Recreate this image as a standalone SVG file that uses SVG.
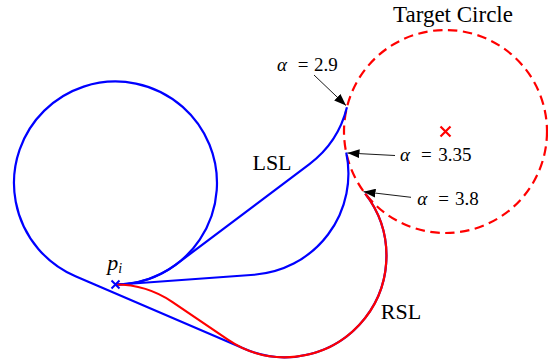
<svg xmlns="http://www.w3.org/2000/svg" width="548" height="364" viewBox="0 0 548 364">
<style>
.blue{fill:none;stroke:#0000ff;stroke-width:2.2;stroke-linejoin:round}
.red{fill:none;stroke:#ff0000;stroke-width:2.2;stroke-linejoin:round}
.dash{fill:none;stroke:#ff0000;stroke-width:2.2;stroke-dasharray:9.5 5.5}
.arr{fill:none;stroke:#000;stroke-width:0.9}
</style>
<defs>
<marker id="ah" markerUnits="userSpaceOnUse" markerWidth="13" markerHeight="9" refX="12" refY="4.5" orient="auto">
<path d="M0,0 L12,4.5 L0,9 z" fill="#000"/>
</marker>
</defs>
<g id="target-circle">
<circle class="dash" cx="445.5" cy="131.5" r="101.5"/>
<path d="M440.5 126.5 L450.5 136.5 M450.5 126.5 L440.5 136.5" stroke="#ff0000" stroke-width="2.2" fill="none"/>
<text style="font-family:'Liberation Serif'" font-family="Liberation Serif" fill="#000" font-size="23" x="453" y="21.5" text-anchor="middle">Target Circle</text>
</g>
<g id="connectors">
<path id="lsl-2.9" class="blue" d="M115.5 284.5 A101.5 101.5 0 0 0 176.56 264.09 L309.46 164.02 A101.5 101.5 0 0 0 346.95 107.22"/>
<path id="lsl-3.35" class="blue" d="M115.5 284.5 A101.5 101.5 0 0 0 122.82 284.24 L254.28 274.73 A101.5 101.5 0 0 0 346.23 152.49"/>
<path id="lsl-3.8" class="blue" d="M115.5 284.5 A101.5 101.5 0 1 0 75.47 276.28 L244.9 348.99 A101.5 101.5 0 0 0 365.22 193.6"/>
<path id="rsl-3.8" class="red" d="M115.5 284.5 A101.5 101.5 0 0 1 172.55 302.05 L227.88 339.66 A101.5 101.5 0 0 0 365.22 193.6"/>
<line class="arr" marker-end="url(#ah)" x1="314" y1="75" x2="346" y2="105.5"/>
<line class="arr" marker-end="url(#ah)" x1="395" y1="155.5" x2="347.5" y2="153"/>
<line class="arr" marker-end="url(#ah)" x1="411" y1="197.3" x2="363.5" y2="191.7"/>
</g>
<g id="start-point">
<path d="M111.5 280.5 L119.5 288.5 M119.5 280.5 L111.5 288.5" stroke="#0000ff" stroke-width="2" fill="none"/>
<text style="font-family:'Liberation Serif'" font-family="Liberation Serif" fill="#000" x="107.3" y="269.5" font-size="22" font-style="italic">p</text>
<text style="font-family:'Liberation Serif'" font-family="Liberation Serif" fill="#000" x="118.3" y="273" font-size="14" font-style="italic">i</text>
</g>
<g id="labels">
<text style="font-family:'Liberation Serif'" font-family="Liberation Serif" fill="#000" font-size="22" x="272" y="170" text-anchor="middle">LSL</text>
<text style="font-family:'Liberation Serif'" font-family="Liberation Serif" fill="#000" font-size="22" x="401" y="318.5" text-anchor="middle">RSL</text>
<text style="font-family:'Liberation Serif'" font-family="Liberation Serif" fill="#000" font-size="19" x="277" y="71" font-style="italic">α</text>
<text style="font-family:'Liberation Serif'" font-family="Liberation Serif" fill="#000" font-size="19" x="303" y="71" text-anchor="middle">=</text>
<text style="font-family:'Liberation Serif'" font-family="Liberation Serif" fill="#000" font-size="19" x="314" y="71">2.9</text>
<text style="font-family:'Liberation Serif'" font-family="Liberation Serif" fill="#000" font-size="19" x="400" y="161" font-style="italic">α</text>
<text style="font-family:'Liberation Serif'" font-family="Liberation Serif" fill="#000" font-size="19" x="426.3" y="161" text-anchor="middle">=</text>
<text style="font-family:'Liberation Serif'" font-family="Liberation Serif" fill="#000" font-size="19" x="438.3" y="161">3.35</text>
<text style="font-family:'Liberation Serif'" font-family="Liberation Serif" fill="#000" font-size="19" x="417.3" y="204.5" font-style="italic">α</text>
<text style="font-family:'Liberation Serif'" font-family="Liberation Serif" fill="#000" font-size="19" x="443.7" y="204.5" text-anchor="middle">=</text>
<text style="font-family:'Liberation Serif'" font-family="Liberation Serif" fill="#000" font-size="19" x="455" y="204.5">3.8</text>
</g>
</svg>
